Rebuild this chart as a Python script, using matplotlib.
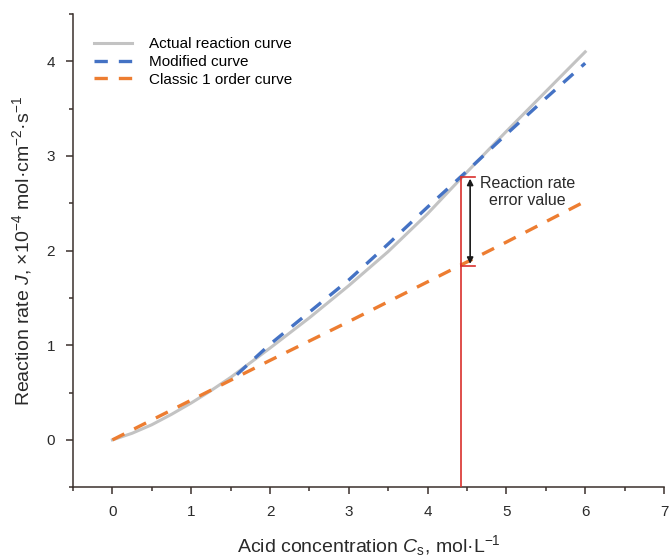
import numpy as np
import matplotlib.pyplot as plt
from matplotlib.ticker import MultipleLocator

plt.rcParams['font.family'] = ['Liberation Sans', 'DejaVu Sans']
plt.rcParams['mathtext.fontset'] = 'custom'
plt.rcParams['mathtext.rm'] = 'Liberation Sans'
plt.rcParams['mathtext.it'] = 'Liberation Sans:italic'

# actual reaction curve
x_actual = [0, 0.25, 0.5, 0.75, 1, 1.25, 1.5, 2, 2.5, 3, 3.5, 4, 4.5, 5, 5.5, 6]
j_actual = [0, 0.07, 0.16, 0.27, 0.39, 0.52, 0.66, 0.97, 1.29, 1.63, 1.99, 2.39, 2.83, 3.26, 3.68, 4.10]

# modified curve
x_mod = [1.58, 2, 2.5, 3, 3.5, 4, 4.5, 5, 5.5, 6]
j_mod = [0.69, 1.01, 1.35, 1.69, 2.07, 2.46, 2.84, 3.23, 3.61, 3.98]

# classic 1 order curve
x_cls = [0, 1, 2, 3, 4, 5, 6]
j_cls = [0, 0.42, 0.84, 1.25, 1.67, 2.09, 2.52]

# error marker
c_err = 4.42
j_top = 2.78
j_bot = 1.84

fig = plt.figure(figsize=(6.7, 5.6), dpi=100)
ax = fig.add_axes([0.109, 0.130, 0.882, 0.845])

ax.plot(x_actual, j_actual, color='#c3c3c3', lw=2.2, label='Actual reaction curve', zorder=2)
ax.plot(x_mod, j_mod, color='#4472c4', lw=2.4, dashes=(4, 3.3), label='Modified curve', zorder=3)
ax.plot(x_cls, j_cls, color='#ed7d31', lw=2.4, dashes=(4, 3.3), label='Classic 1 order curve', zorder=3)

# red bracket
red = '#d9302c'
ax.plot([c_err, c_err], [-0.5, j_top], color=red, lw=1.2, zorder=4)
ax.plot([c_err, c_err + 0.18], [j_top, j_top], color=red, lw=1.2, zorder=4)
ax.plot([c_err, c_err + 0.18], [j_bot, j_bot], color=red, lw=1.2, zorder=4)
ax.annotate('', xy=(c_err + 0.12, j_bot + 0.02), xytext=(c_err + 0.12, j_top - 0.02),
            arrowprops=dict(arrowstyle='<|-|>', color='#1a1a1a', lw=1.2,
                            mutation_scale=9, shrinkA=0, shrinkB=0), zorder=5)
ax.text(5.27, 2.62, 'Reaction rate\nerror value', ha='center', va='center',
        fontsize=11.5, color='#2a2a2a', linespacing=1.1)

ax.set_xlim(-0.5, 7)
ax.set_ylim(-0.5, 4.5)
ax.xaxis.set_major_locator(MultipleLocator(1))
ax.xaxis.set_minor_locator(MultipleLocator(0.5))
ax.yaxis.set_major_locator(MultipleLocator(1))
ax.yaxis.set_minor_locator(MultipleLocator(0.5))

spine_c = '#3a302c'
for s in ['top', 'right']:
    ax.spines[s].set_visible(False)
for s in ['left', 'bottom']:
    ax.spines[s].set_color(spine_c)
    ax.spines[s].set_linewidth(1.1)
ax.tick_params(which='major', direction='out', length=5, width=1.1, color=spine_c,
               labelsize=11, labelcolor='#2a2a2a', pad=8)
ax.tick_params(which='minor', direction='out', length=3, width=1.1, color=spine_c)

ax.set_xlabel(r'Acid concentration $C_\mathrm{s}$, mol·L$^{-1}$', fontsize=14,
              color='#2a2a2a', labelpad=10)
ax.set_ylabel(r'Reaction rate $J$, ×10$^{-4}$ mol·cm$^{-2}$·s$^{-1}$', fontsize=14,
              color='#2a2a2a', labelpad=9)

ax.legend(loc='upper left', bbox_to_anchor=(0.005, 0.99), frameon=False, fontsize=11,
          handlelength=2.45, handletextpad=1.1, labelspacing=0.25, borderaxespad=0.8)

fig.savefig('out.png', dpi=100)
